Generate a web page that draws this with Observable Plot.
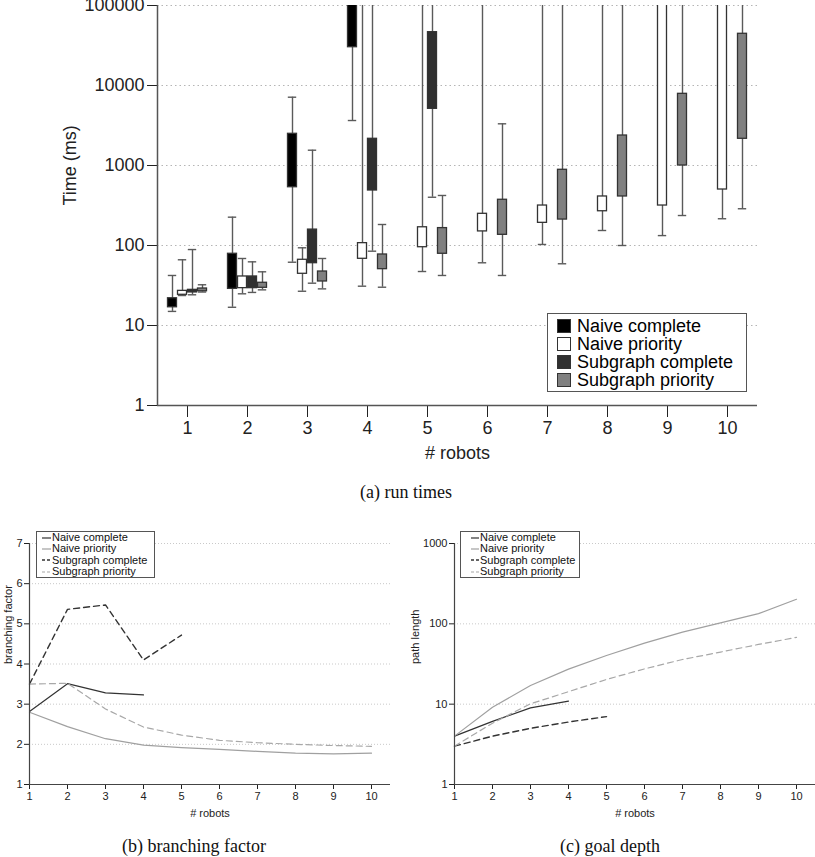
<!DOCTYPE html>
<html><head><meta charset="utf-8">
<script src="https://cdn.jsdelivr.net/npm/d3@7"></script>
<script src="https://cdn.jsdelivr.net/npm/@observablehq/plot@0.6"></script>
<style>
body{margin:0;background:#fff;}
#page{position:relative;width:815px;height:857px;overflow:hidden;background:#fff;}
.abs{position:absolute;}
.cap{font-family:"Liberation Serif","Times New Roman",serif;font-size:18px;text-align:center;line-height:20px;color:#111;}
.legA{border:1.5px solid #555;background:#fff;font-family:"Liberation Sans",Arial,sans-serif;font-size:18px;line-height:18px;box-sizing:border-box;padding:3px 0 0 9px;color:#000;}
.legA .row{display:flex;align-items:center;height:18px;}
.legA .row span{display:block;height:18px;line-height:18px;overflow:visible;}
.legA .sw{width:12px;height:12px;border:1px solid #333;margin-right:6px;}
.legB{border:1.2px solid #555;background:#fff;font-family:"Liberation Sans",Arial,sans-serif;font-size:11px;line-height:11px;box-sizing:border-box;padding-top:0px;color:#111;}
.legB .row{display:flex;align-items:center;height:11.3px;}
.legB .row span{display:block;height:11px;line-height:11px;overflow:visible;}
</style></head><body><div id="page"></div><script>
// ---------------- data ----------------
const robots = [1, 2, 3, 4, 5, 6, 7, 8, 9, 10];
const seriesNames = ["Naive complete", "Naive priority", "Subgraph complete", "Subgraph priority"];
const timeTicks = [1, 10, 100, 1000, 10000, 100000];
const timeGrid = [10, 100, 1000, 10000, 100000];

// (a) run times (ms): whisker min, box lower, box upper, whisker max; null = not run.
// values above 100000 run past the top of the axis
const naiveCompleteMin = [15.0, 16.9, 61.8, 3650, null, null, null, null, null, null];
const naiveCompleteQ1  = [16.9, 28.7, 535, 30100, null, null, null, null, null, null];
const naiveCompleteQ3  = [21.9, 78.8, 2490, 250000, null, null, null, null, null, null];
const naiveCompleteMax = [42.2, 226, 7140, 1000000, null, null, null, null, null, null];

const naivePriorityMin = [23.7, 24.9, 26.8, 31.0, 47.3, 60.8, 103, 154, 133, 216];
const naivePriorityQ1  = [24.2, 29.3, 44.3, 68.2, 95.2, 150, 192, 268, 316, 501];
const naivePriorityQ3  = [27.1, 41.0, 66.3, 107, 169, 249, 316, 410, 250000, 250000];
const naivePriorityMax = [66.3, 68.8, 93.6, 1000000, 1000000, 1000000, 1000000, 1000000, 1000000, 1000000];

const subgraphCompleteMin = [24.2, 25.9, 33.8, 84.9, 401, null, null, null, null, null];
const subgraphCompleteQ1  = [25.9, 29.3, 60.1, 487, 5110, null, null, null, null, null];
const subgraphCompleteQ3  = [27.9, 41.0, 158, 2157, 46400, null, null, null, null, null];
const subgraphCompleteMax = [89, 62.5, 1553, 1000000, 1000000, null, null, null, null, null];

const subgraphPriorityMin = [26.2, 27.9, 28.7, 30.1, 42.2, 42.2, 59.1, 100, 237, 288];
const subgraphPriorityQ1  = [26.8, 29.6, 35.5, 50.6, 78.8, 136, 211, 410, 1000, 2157];
const subgraphPriorityQ3  = [29.0, 34.2, 47.3, 77.2, 165, 373, 884, 2371, 7870, 44300];
const subgraphPriorityMax = [32.3, 46.9, 68.8, 183, 422, 3320, 1000000, 1000000, 1000000, 1000000];

// (b) branching factor
const bfTicks = [1, 2, 3, 4, 5, 6, 7];
const bfNaiveComplete    = [2.82, 3.51, 3.28, 3.23, null, null, null, null, null, null];
const bfNaivePriority    = [2.80, 2.44, 2.14, 1.98, 1.92, 1.875, 1.825, 1.78, 1.76, 1.78];
const bfSubgraphComplete = [3.50, 5.36, 5.47, 4.10, 4.72, null, null, null, null, null];
const bfSubgraphPriority = [3.50, 3.52, 2.88, 2.43, 2.23, 2.10, 2.04, 2.00, 1.97, 1.95];

// (c) goal depth (path length)
const gdTicks = [1, 10, 100, 1000];
const gdNaiveComplete    = [4.0, 6.1, 9.0, 10.9, null, null, null, null, null, null];
const gdNaivePriority    = [4.0, 9.15, 17.1, 27.3, 40.4, 57.6, 79, 103, 134, 202];
const gdSubgraphComplete = [3.0, 4.0, 5.0, 6.0, 7.0, null, null, null, null, null];
const gdSubgraphPriority = [3.0, 5.8, 10.1, 14.3, 20.3, 27.5, 36, 44.5, 55.4, 67.8];

// ---------------- build tables ----------------
const boxStats = [
  [naiveCompleteMin, naiveCompleteQ1, naiveCompleteQ3, naiveCompleteMax],
  [naivePriorityMin, naivePriorityQ1, naivePriorityQ3, naivePriorityMax],
  [subgraphCompleteMin, subgraphCompleteQ1, subgraphCompleteQ3, subgraphCompleteMax],
  [subgraphPriorityMin, subgraphPriorityQ1, subgraphPriorityQ3, subgraphPriorityMax]
];
const boxRows = [];
seriesNames.forEach((s, i) => {
  const [mn, q1, q3, mx] = boxStats[i];
  robots.forEach((r, j) => {
    if (q1[j] != null) boxRows.push({robots: r, series: s, min: mn[j], q1: q1[j], q3: q3[j], max: mx[j]});
  });
});
function lineRows(arr, s) {
  return robots.map((r, j) => ({robots: r, series: s, value: arr[j]})).filter(d => d.value != null);
}
const bfSeries = [bfNaiveComplete, bfNaivePriority, bfSubgraphComplete, bfSubgraphPriority];
const gdSeries = [gdNaiveComplete, gdNaivePriority, gdSubgraphComplete, gdSubgraphPriority];

// ---------------- styles ----------------
const boxFill = ["#000000", "#ffffff", "#303030", "#808080"];
const boxOffset = [-15, -5, 5, 15];
const halfBox = 0.075, halfCap = 0.07;
const lineStroke = ["#333333", "#a0a0a0", "#333333", "#a8a8a8"];
const lineDash = [null, null, "6,4", "6,4"];
const lineWidth = [1.2, 1.2, 1.4, 1.2];

const page = document.getElementById("page");

// ---------------- (a) run times ----------------
const marksA = [Plot.ruleY(timeGrid, {stroke: "#b5b5b5", strokeDasharray: "1.5,3", strokeWidth: 1})];
seriesNames.forEach((s, i) => {
  const rows = boxRows.filter(d => d.series === s);
  const dx = boxOffset[i];
  marksA.push(Plot.ruleX(rows, {x: "robots", y1: "min", y2: "max", dx, stroke: "#5a5a5a", strokeWidth: 1.4, clip: true}));
  marksA.push(Plot.ruleY(rows, {y: "min", x1: d => d.robots - halfCap, x2: d => d.robots + halfCap, dx, stroke: "#5a5a5a", strokeWidth: 1.4, clip: true}));
  marksA.push(Plot.ruleY(rows, {y: "max", x1: d => d.robots - halfCap, x2: d => d.robots + halfCap, dx, stroke: "#5a5a5a", strokeWidth: 1.4, clip: true}));
  marksA.push(Plot.rect(rows, {x1: d => d.robots - halfBox, x2: d => d.robots + halfBox, y1: "q1", y2: "q3", dx, fill: boxFill[i], stroke: "#333", strokeWidth: 1.3, clip: true}));
});
marksA.push(Plot.ruleX([0.5], {stroke: "#555", strokeWidth: 1.5}));
marksA.push(Plot.ruleY([1], {stroke: "#555", strokeWidth: 1.5}));
marksA.push(Plot.text(["# robots"], {frameAnchor: "bottom", dy: 53, fontSize: 18}));
marksA.push(Plot.text(["Time (ms)"], {frameAnchor: "left", dx: -87, rotate: -90, fontSize: 18}));

const chartA = Plot.plot({
  width: 815, height: 470,
  marginTop: 5, marginLeft: 157, marginRight: 58, marginBottom: 65,
  x: {type: "linear", domain: [0.5, 10.5], ticks: robots, tickFormat: d => String(d), tickSize: 12, tickPadding: 4, label: null},
  y: {type: "log", domain: [1, 100000], ticks: timeTicks, tickFormat: d => String(d), tickSize: 10, tickPadding: 3, label: null},
  style: {fontFamily: "'Liberation Sans', Arial, sans-serif", fontSize: "18px", color: "#222", background: "transparent", overflow: "visible"},
  marks: marksA
});
chartA.classList.add("abs");
chartA.style.left = "0px"; chartA.style.top = "0px";
page.appendChild(chartA);

// legend (a)
const legA = document.createElement("div");
legA.className = "abs legA";
Object.assign(legA.style, {left: "547px", top: "313px", width: "200px", height: "79px"});
seriesNames.forEach((s, i) => {
  const row = document.createElement("div"); row.className = "row";
  const sw = document.createElement("div"); sw.className = "sw"; sw.style.background = boxFill[i];
  const t = document.createElement("span"); t.textContent = s;
  row.appendChild(sw); row.appendChild(t); legA.appendChild(row);
});
page.appendChild(legA);

const capA = document.createElement("div");
capA.className = "abs cap"; capA.textContent = "(a) run times";
Object.assign(capA.style, {left: "0px", width: "812px", top: "482px"});
page.appendChild(capA);

// ---------------- line panels ----------------
function linePanel(seriesArr, yOpts, grid, yLabel, left, ml, mr, labelDx) {
  const marks = [Plot.ruleY(grid, {stroke: "#bbb", strokeDasharray: "1,2", strokeWidth: 0.8})];
  seriesNames.forEach((s, i) => {
    marks.push(Plot.line(lineRows(seriesArr[i], s), {x: "robots", y: "value", stroke: lineStroke[i], strokeWidth: lineWidth[i], strokeDasharray: lineDash[i] || undefined}));
  });
  marks.push(Plot.ruleX([1], {stroke: "#444", strokeWidth: 1.2}));
  marks.push(Plot.ruleY([yOpts.domain[0]], {stroke: "#444", strokeWidth: 1.2}));
  marks.push(Plot.text(["# robots"], {frameAnchor: "bottom", dy: 32, fontSize: 11}));
  marks.push(Plot.text([yLabel], {frameAnchor: "left", dx: labelDx, rotate: -90, fontSize: 11}));
  const c = Plot.plot({
    width: 405, height: 300,
    marginTop: 23, marginBottom: 36, marginLeft: ml, marginRight: mr,
    x: {type: "linear", domain: [1, 10.5], ticks: robots, tickFormat: d => String(d), tickSize: 5, tickPadding: 3, label: null},
    y: Object.assign({tickFormat: d => String(d), tickSize: 5, tickPadding: 2, label: null}, yOpts),
    style: {fontFamily: "'Liberation Sans', Arial, sans-serif", fontSize: "11px", color: "#222", background: "transparent", overflow: "visible"},
    marks
  });
  c.classList.add("abs");
  c.style.left = left + "px"; c.style.top = "520px";
  page.appendChild(c);
}
linePanel(bfSeries, {type: "linear", domain: [1, 7], ticks: bfTicks}, [2, 3, 4, 5, 6, 7], "branching factor", 0, 29, 15, -21);
linePanel(gdSeries, {type: "log", domain: [1, 1000], ticks: gdTicks}, [10, 100, 1000], "path length", 410, 44, 0, -39);

function lineLegend(left, top, width, padLeft, sampleW) {
  const lg = document.createElement("div");
  lg.className = "abs legB";
  Object.assign(lg.style, {left: left + "px", top: top + "px", width: width + "px", height: "47px", paddingLeft: padLeft + "px"});
  seriesNames.forEach((s, i) => {
    const row = document.createElement("div"); row.className = "row";
    const svgNS = "http://www.w3.org/2000/svg";
    const sv = document.createElementNS(svgNS, "svg");
    sv.setAttribute("width", sampleW); sv.setAttribute("height", "4");
    const ln = document.createElementNS(svgNS, "line");
    ln.setAttribute("x1", 0); ln.setAttribute("x2", sampleW); ln.setAttribute("y1", 2); ln.setAttribute("y2", 2);
    ln.setAttribute("stroke", lineStroke[i]); ln.setAttribute("stroke-width", lineWidth[i]);
    if (lineDash[i]) ln.setAttribute("stroke-dasharray", "3,2");
    sv.appendChild(ln);
    const t = document.createElement("span"); t.textContent = s; t.style.marginLeft = "1px";
    row.appendChild(sv); row.appendChild(t); lg.appendChild(row);
  });
  page.appendChild(lg);
}
lineLegend(36, 531, 119, 5, 9);
lineLegend(460, 531, 120, 10, 8);

const capB = document.createElement("div");
capB.className = "abs cap"; capB.textContent = "(b) branching factor";
Object.assign(capB.style, {left: "94px", width: "200px", top: "836px"});
page.appendChild(capB);
const capC = document.createElement("div");
capC.className = "abs cap"; capC.textContent = "(c) goal depth";
Object.assign(capC.style, {left: "510px", width: "200px", top: "836px"});
page.appendChild(capC);
</script></body></html>
